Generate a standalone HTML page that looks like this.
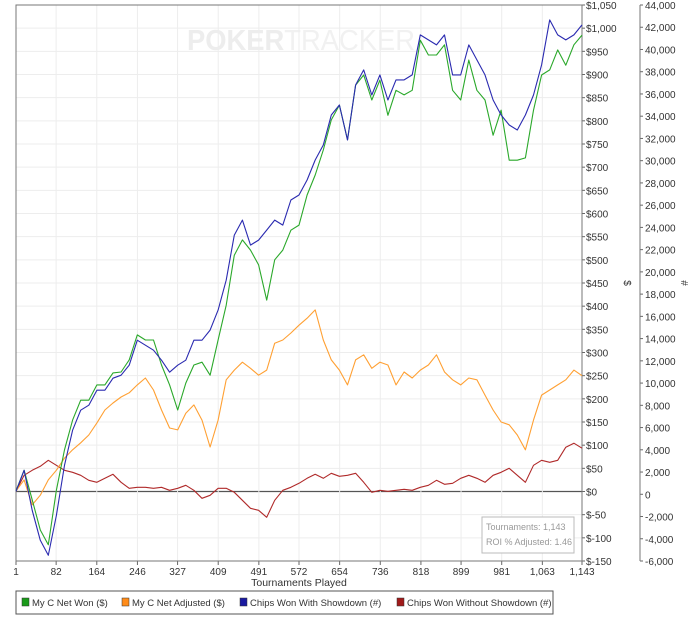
<!DOCTYPE html>
<html><head><meta charset="utf-8"><style>
body{margin:0;background:#fff;font-family:"Liberation Sans",sans-serif;}
svg text{font-family:"Liberation Sans",sans-serif;}
</style></head><body>
<svg id="chart" width="700" height="627" xmlns="http://www.w3.org/2000/svg">
<text x="187" y="50" font-size="29" fill="#ededed" font-weight="bold" textLength="228" lengthAdjust="spacingAndGlyphs">POKER<tspan font-weight="normal" fill="#f1f1f1">TRACKER</tspan></text>
<g id="grid"></g><g id="axes"></g><g id="series"></g>
</svg>
<script>
const xTicks=[1,82,164,246,327,409,491,572,654,736,818,899,981,1063,1143];
const dollarTicks=[-150,-100,-50,0,50,100,150,200,250,300,350,400,450,500,550,600,650,700,750,800,850,900,950,1000,1050];
const chipTicks=[-6000,-4000,-2000,0,2000,4000,6000,8000,10000,12000,14000,16000,18000,20000,22000,24000,26000,28000,30000,32000,34000,36000,38000,40000,42000,44000];
const netWon=[1,46,-18,-83,-115,3,90,154,197,197,230,230,256,258,284,338,327,327,273,230,176,234,273,279,251,327,402,510,543,521,489,413,500,521,564,575,640,683,737,802,834,759,877,899,845,888,812,866,856,866,974,942,942,964,866,845,931,866,845,769,823,715,715,720,823,899,910,953,920,964,985];
const netAdjusted=[1,25,-29,-8,25,46,72,90,105,122,148,176,191,204,213,230,245,219,176,137,133,169,187,154,96,154,241,262,279,266,251,262,320,327,342,359,374,392,327,284,262,230,284,295,266,279,273,230,258,245,262,273,295,258,241,230,245,241,208,176,150,144,122,90,154,208,219,230,241,262,250];
const chipsShowdown=[270,2160,-1440,-4140,-5490,-1890,2610,5760,7560,8010,9360,9360,10440,10710,11610,13860,13410,12960,12060,10980,11610,12060,13860,13860,14760,16560,19260,23310,24660,22410,22860,23760,24660,24210,26460,26910,28260,30060,31410,34110,35010,31860,36810,38160,35910,37710,35460,37260,37260,37710,41310,40860,40410,41310,37710,37710,40410,39060,37710,35460,34110,33210,32760,34110,35910,38610,42660,41310,40860,41310,42210];
const chipsNoShowdown=[270,1710,2160,2520,3060,2610,2160,1980,1710,1260,1080,1440,1800,1080,540,630,630,540,630,360,540,810,360,-360,-90,540,540,180,-540,-1260,-1440,-2070,-540,360,630,990,1440,1800,1440,1890,1620,1710,1890,1080,180,360,270,360,450,360,630,810,1260,900,990,1440,1710,1440,1080,1710,1980,2340,1710,1080,2610,3060,2880,3060,4230,4590,4140];

const NS="http://www.w3.org/2000/svg";
const L=16,R=582,T=5,B=561;
const xS=t=>L+(t-1)/(1142)*(R-L);
const yD=v=>T+(1050-v)/1200*(B-T);
const yC=c=>T+(44000-c)/50000*(B-T);
function mk(tag,attrs,parent,txt){const e=document.createElementNS(NS,tag);for(const k in attrs)e.setAttribute(k,attrs[k]);if(txt!==undefined)e.textContent=txt;parent.appendChild(e);return e;}
const grid=document.getElementById('grid'),axes=document.getElementById('axes'),ser=document.getElementById('series');
dollarTicks.forEach(v=>{const y=yD(v);
 const g=mk('line',{x1:L,x2:R,y1:y,y2:y,stroke:v===0?'#555':'#ededed','stroke-width':v===0?1.3:1},grid);
 
 
 mk('line',{x1:R,x2:R+3,y1:y,y2:y,stroke:'#666'},axes);
 const t=mk('text',{x:R+4,y:y+4,'font-size':10,fill:'#333'},axes,v<0?'$-'+Math.abs(v):'$'+v.toLocaleString('en-US'));
 
 });
chipTicks.forEach(c=>{const y=yC(c);
 mk('line',{x1:640,x2:643,y1:y,y2:y,stroke:'#666'},axes);
 const t=mk('text',{x:645,y:y+4,'font-size':10,fill:'#333'},axes,c.toLocaleString('en-US'));
 
 });
xTicks.forEach(v=>{const x=xS(v);
 mk('line',{x1:x,x2:x,y1:T,y2:B,stroke:'#ededed'},grid);
 mk('line',{x1:x,x2:x,y1:B,y2:B+4,stroke:'#666'},axes);
 const t=mk('text',{x:x,y:B+14,'font-size':10,fill:'#333','text-anchor':'middle'},axes,v.toLocaleString('en-US'));
 
 });
const frame=mk('rect',{x:L,y:T,width:R-L,height:B-T,fill:'none',stroke:'#777'},axes);


mk('line',{x1:640,x2:640,y1:T,y2:B,stroke:'#777'},axes);
const xt=mk('text',{x:299,y:586,'font-size':10.5,fill:'#333','text-anchor':'middle'},axes,'Tournaments Played');


const yt1=mk('text',{x:624,y:283,'font-size':10,fill:'#333','text-anchor':'middle',transform:'rotate(90 624 283)'},axes,'$');


const yt2=mk('text',{x:681,y:283,'font-size':10,fill:'#333','text-anchor':'middle',transform:'rotate(90 681 283)'},axes,'#');


function line(arr,yf,color,name){const n=arr.length;const pts=arr.map((v,i)=>xS(1+i*1142/(n-1)).toFixed(1)+','+yf(v).toFixed(1)).join(' ');
 const p=mk('polyline',{points:pts,fill:'none',stroke:color,'stroke-width':1.1,'stroke-linejoin':'round'},ser);
 
 }
line(chipsNoShowdown,yC,'#b02a2a','series-chips-without-showdown');
line(netAdjusted,yD,'#ffa033','series-net-adjusted');
line(netWon,yD,'#2aa82a','series-net-won');
line(chipsShowdown,yC,'#2a2ab0','series-chips-with-showdown');
const ib=mk('rect',{x:482,y:517,width:92,height:36,fill:'#fff',stroke:'#bbb'},ser);


mk('text',{x:486,y:530,'font-size':9,fill:'#999'},ser,'Tournaments: 1,143');
mk('text',{x:486,y:545,'font-size':9,fill:'#999'},ser,'ROI % Adjusted: 1.46');
const lg=mk('rect',{x:16,y:591,width:537,height:23,fill:'#fff',stroke:'#555'},ser);


const legNames=['My C Net Won ($)','My C Net Adjusted ($)','Chips Won With Showdown (#)','Chips Won Without Showdown (#)'];
const legCols=['#1a9a1a','#ff8c1a','#1a1aa0','#a01a1a'];
const legX=[22,122,240,397];
legNames.forEach((nm,i)=>{
 const g=mk('g',{},ser);
 
 
 mk('rect',{x:legX[i],y:598,width:7,height:8,fill:legCols[i],stroke:'#333','stroke-width':0.5},g);
 mk('text',{x:legX[i]+10,y:606,'font-size':9.5,fill:'#333'},g,nm);});
</script>
</body></html>
